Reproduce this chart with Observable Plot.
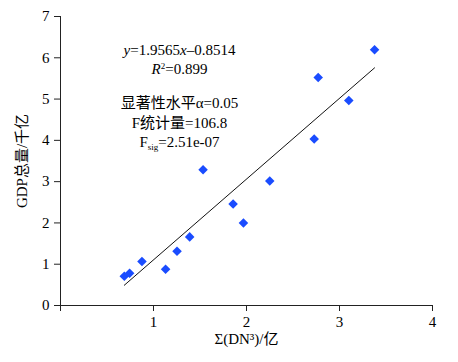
<!DOCTYPE html>
<html><head><meta charset="utf-8">
<script src="https://cdn.jsdelivr.net/npm/d3@7"></script>
<script src="https://cdn.jsdelivr.net/npm/@observablehq/plot@0.6"></script>
<style>body{margin:0;background:#fff}</style>
</head><body><div id="chart"></div>
<script>
// Data
const xValues = [0.686, 0.743, 0.876, 1.130, 1.253, 1.389, 1.533, 1.856, 1.967, 2.250, 2.728, 2.771, 3.100, 3.377];
const yValues = [0.709, 0.781, 1.065, 0.878, 1.314, 1.662, 3.290, 2.460, 2.000, 3.017, 4.033, 5.524, 4.967, 6.194];
const slope = 1.9565;
const intercept = -0.8514;
const xTicks = [0, 1, 2, 3, 4];
const yTicks = [0, 1, 2, 3, 4, 5, 6, 7];
const eqLines = ["y=1.9565x–0.8514", "R2=0.899"];
const statLines = ["显著性水平α=0.05", "F统计量=106.8", "Fsig=2.51e-07"];
const xLabel = "Σ(DN³)/亿";
const yLabel = "GDP总量/千亿";

const points = xValues.map((x, i) => ({x, y: yValues[i]}));
const fit = d3.extent(xValues).map(x => ({x, y: slope * x + intercept}));

const axisColor = "#222";
const font = "'Liberation Serif', 'Noto Sans CJK SC', serif";

const lineDy = [34, 53];
const statDy = [87, 106.7, 125.7];

const textMarks = [
  ...eqLines.map((t, i) => Plot.text([t], {text: d => d, frameAnchor: "top-left", dx: 119, dy: lineDy[i], textAnchor: "middle", lineAnchor: "middle", fill: "#000"})),
  ...statLines.map((t, i) => Plot.text([t], {text: d => d, frameAnchor: "top-left", dx: 119, dy: statDy[i], textAnchor: "middle", lineAnchor: "middle", fill: "#000"}))
];

const chart = Plot.plot({
  width: 458, height: 362,
  marginLeft: 60, marginRight: 26, marginTop: 16, marginBottom: 57,
  x: {domain: [0, 4]},
  y: {domain: [0, 7]},
  style: {fontFamily: font, fontSize: "15px", color: "#000", background: "#fff"},
  marks: [
    Plot.axisX(xTicks, {tickSize: 6, tickPadding: 5, tickFormat: d => d === 0 ? "" : String(d), label: null, stroke: axisColor, fill: "#000"}),
    Plot.axisY(yTicks, {tickSize: 6, tickPadding: 5, tickFormat: d => String(d), label: null, stroke: axisColor, fill: "#000"}),
    Plot.ruleY([0], {stroke: axisColor}),
    Plot.ruleX([0], {stroke: axisColor}),
    Plot.line(fit, {x: "x", y: "y", stroke: "#111", strokeWidth: 1}),
    Plot.dot(points, {x: "x", y: "y", symbol: "diamond2", r: 4.3, fill: "#1a4cff", stroke: "none"}),
    Plot.text([xLabel], {text: d => d, frameAnchor: "bottom", dy: 34, textAnchor: "middle", lineAnchor: "middle", fill: "#000"}),
    Plot.text([yLabel], {text: d => d, frameAnchor: "left", dx: -38.5, rotate: -90, textAnchor: "middle", lineAnchor: "middle", fill: "#000"}),
    ...textMarks
  ]
});
document.getElementById("chart").appendChild(chart);

// rich text (italic, superscript, subscript)
const rich = {
  "y=1.9565x–0.8514": [["y", "i"], ["=1.9565"], ["x", "i"], ["–0.8514"]],
  "R2=0.899": [["R", "i"], ["2", "sup"], ["=0.899"]],
  "Fsig=2.51e-07": [["F"], ["sig", "sub"], ["=2.51e-07"]]
};
d3.select(chart).selectAll("text").each(function() {
  const spec = rich[this.textContent];
  if (!spec) return;
  const t = d3.select(this);
  t.text(null);
  let shift = 0;
  for (const [s, k] of spec) {
    const ts = t.append("tspan").text(s);
    let target = 0;
    if (k === "i") ts.attr("font-style", "italic");
    if (k === "sup") { ts.attr("font-size", "9px"); target = -5; }
    if (k === "sub") { ts.attr("font-size", "9px"); target = 3; }
    if (target !== shift) { ts.attr("dy", target - shift); shift = target; }
  }
});
</script>
</body></html>
